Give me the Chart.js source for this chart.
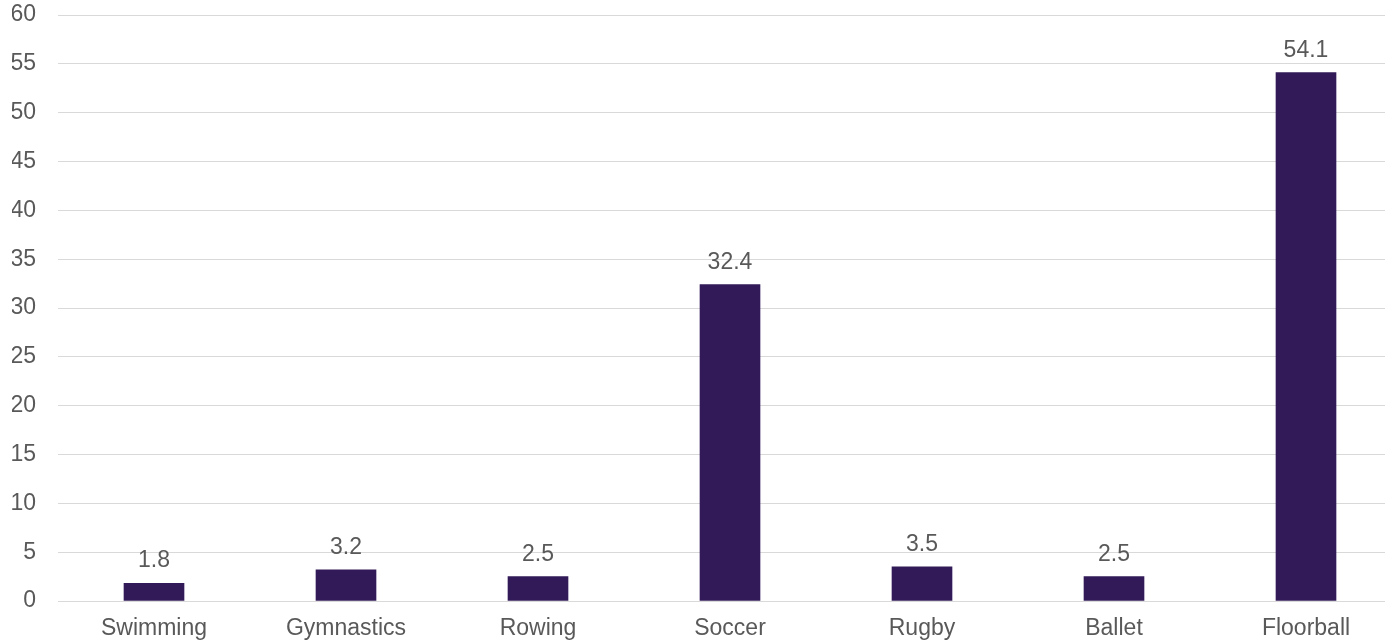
<!DOCTYPE html>
<html>
<head>
<meta charset="utf-8">
<script src="https://cdn.jsdelivr.net/npm/chart.js@4/dist/chart.umd.min.js"></script>
<style>
  html, body { margin: 0; padding: 0; background: #ffffff; overflow: hidden; }
  #wrap { position: relative; width: 1402px; height: 642px; }
</style>
</head>
<body>
<div id="wrap"><canvas id="c"></canvas></div>
<script>
const categories = ["Swimming", "Gymnastics", "Rowing", "Soccer", "Rugby", "Ballet", "Floorball"];
const values = [1.8, 3.2, 2.5, 32.4, 3.5, 2.5, 54.1];
const yTicks = [0, 5, 10, 15, 20, 25, 30, 35, 40, 45, 50, 55, 60];

const FONT = "'Liberation Sans', Arial, sans-serif";
const TEXT = "#595959";

const valueLabels = {
  id: "valueLabels",
  afterDatasetsDraw(chart) {
    const ctx = chart.ctx;
    const meta = chart.getDatasetMeta(0);
    ctx.save();
    ctx.font = "23px " + FONT;
    ctx.fillStyle = TEXT;
    ctx.textAlign = "center";
    ctx.textBaseline = "alphabetic";
    meta.data.forEach((bar, i) => {
      ctx.fillText(String(values[i]), bar.x, bar.y - 16);
    });
    ctx.restore();
  }
};

new Chart(document.getElementById("c"), {
  type: "bar",
  data: {
    labels: categories,
    datasets: [{
      data: values,
      backgroundColor: "#321A58",
      borderWidth: 0,
      barThickness: 60
    }]
  },
  options: {
    responsive: true,
    maintainAspectRatio: false,
    animation: false,
    layout: { padding: { left: 12, right: 0, top: 15, bottom: 0 } },
    plugins: { legend: { display: false }, tooltip: { enabled: false } },
    scales: {
      x: {
        grid: { display: false, drawTicks: false },
        border: { display: false },
        afterFit(axis) { axis.height = 41; axis.paddingLeft = 0; axis.paddingRight = 0; },
        ticks: { color: TEXT, font: { family: FONT, size: 23 }, padding: 14, maxRotation: 0 }
      },
      y: {
        min: 0, max: 60,
        afterBuildTicks(axis) { axis.ticks = yTicks.map(v => ({ value: v })); },
        afterFit(axis) { axis.width = 46; axis.paddingTop = 0; axis.paddingBottom = 0; },
        grid: { color: "#d9d9d9", lineWidth: 1, drawTicks: false },
        border: { display: false },
        ticks: { color: TEXT, font: { family: FONT, size: 23 }, padding: 22 }
      }
    }
  },
  plugins: [valueLabels]
});
</script>
</body>
</html>
